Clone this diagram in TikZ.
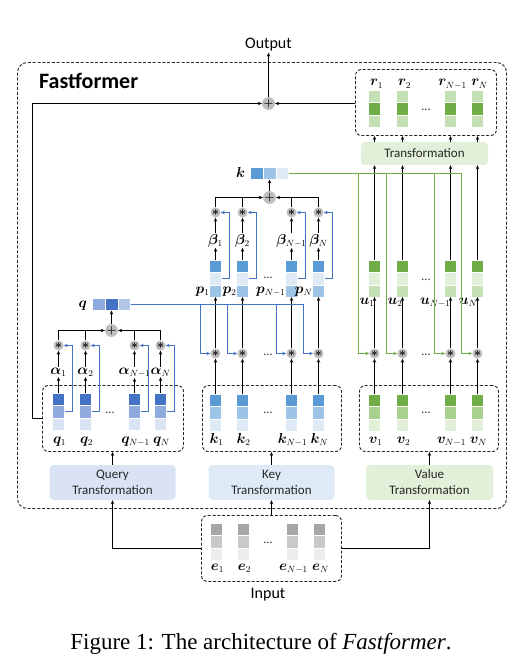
\documentclass[tikz,border=0pt]{standalone}
\usepackage{fontspec}
\usepackage{bm}
\setmainfont{Liberation Serif}
\newfontfamily\sansc{Carlito}
\usetikzlibrary{arrows.meta,calc}
\definecolor{qdark}{HTML}{4472C4}
\definecolor{qmid}{HTML}{8FAADC}
\definecolor{qlight}{HTML}{DAE3F3}
\definecolor{qvl}{HTML}{B4C7E7}
\definecolor{kdark}{HTML}{5B9BD5}
\definecolor{kmid}{HTML}{9DC3E6}
\definecolor{klight}{HTML}{DEEBF7}
\definecolor{vdark}{HTML}{70AD47}
\definecolor{vmid}{HTML}{A9D18E}
\definecolor{vlight}{HTML}{E2F0D9}
\definecolor{vpale}{HTML}{C5E0B4}
\definecolor{edark}{HTML}{A6A6A6}
\definecolor{emid}{HTML}{C9C9C9}
\definecolor{elight}{HTML}{EDEDED}
\definecolor{bline}{HTML}{4472C4}
\definecolor{gline}{HTML}{70AD47}
\newcommand\mkcol[6]{%
  \node[cell, fill=#4, anchor=north] (#1a) at (#2,#3) {};
  \node[cell, fill=#5, anchor=north] (#1b) at (#1a.south) {};
  \node[cell, fill=#6, anchor=north] (#1c) at (#1b.south) {};
}
\begin{document}
\begin{tikzpicture}[x=1pt,y=-1pt,
  cell/.style={draw=white, line width=0.3pt, minimum width=12pt, minimum height=12.333pt, inner sep=0pt, outer sep=0pt},
  hcell/.style={draw=white, line width=0.3pt, minimum width=12.7pt, minimum height=12pt, inner sep=0pt, outer sep=0pt},
  dbox/.style={draw=black!85, dash pattern=on 3pt off 1.8pt, line width=0.9pt, rounded corners=6pt, inner sep=0pt},
  opc/.style={circle, fill=black!25, inner sep=0pt, minimum size=10pt, font=\fontsize{12}{12}\selectfont},
  arr/.style={-{Stealth[length=4pt,width=3.4pt]}, line width=0.8pt},
  ln/.style={line width=0.8pt},
  barr/.style={-{Stealth[length=4pt,width=3.4pt]}, draw=bline, line width=0.9pt},
  garr/.style={-{Stealth[length=4pt,width=3.4pt]}, draw=gline, line width=0.85pt},
  lab/.style={inner sep=0.8pt, font=\fontsize{13.5}{16}\selectfont},
  tbox/.style={rounded corners=4pt, inner sep=0pt, align=center, font=\sansc\fontsize{13}{16}\selectfont, text=black!85},
  dots/.style={font=\sansc\fontsize{12}{12}\selectfont, inner sep=0pt, text=black!85}
]
\useasboundingbox (0,0) rectangle (529,671);
\fill[white] (0,0) rectangle (529,671);

% ---------- boxes ----------
\node[dbox, rounded corners=10pt, minimum width=489pt, minimum height=446pt] (outer) at (262,285.5) {};
\node[anchor=base west, font=\sansc\bfseries\fontsize{22}{24}\selectfont, inner sep=0pt] (title) at (39,89) {Fastformer};

\node[tbox, fill=qlight, minimum width=126pt, minimum height=35pt] (qtr) at (112.5,482.5) {Query\\Transformation};
\node[tbox, fill=klight, minimum width=126pt, minimum height=35pt] (ktr) at (271.5,482.5) {Key\\Transformation};
\node[tbox, fill=vlight, minimum width=127pt, minimum height=35pt] (vtr) at (429.5,482.5) {Value\\Transformation};
\node[tbox, fill=vlight, minimum width=127pt, minimum height=23pt] (tr) at (424.5,153.5) {Transformation};

\node[dbox, minimum width=141pt, minimum height=66pt] (qbox) at (113,418.5) {};
\node[dbox, minimum width=139pt, minimum height=66pt] (kbox) at (272,418.5) {};
\node[dbox, minimum width=139pt, minimum height=66pt] (vbox) at (429,418.5) {};
\node[dbox, minimum width=141pt, minimum height=66pt] (rbox) at (426,102.5) {};
\node[dbox, minimum width=140pt, minimum height=66pt] (inbox) at (271.5,548.5) {};

\node[font=\sansc\fontsize{16}{18}\selectfont, inner sep=1pt] (outp) at (268.5,45) {Output};
\node[font=\sansc\fontsize{16}{18}\selectfont, inner sep=1pt] (inp) at (268,595) {Input};
\node[anchor=base, font=\fontsize{23}{26}\selectfont, inner sep=0pt] (cap) at (261,649) {Figure 1: The architecture of \textit{Fastformer}.};

% ---------- columns ----------
\foreach \i/\x in {1/58.5,2/85.5,3/134.5,4/160.5} {\mkcol{q\i}{\x}{393}{qdark}{qmid}{qlight}}
\foreach \i/\x in {1/215.5,2/242.5,3/291.5,4/318.5} {\mkcol{k\i}{\x}{394}{kdark}{kmid}{klight}}
\foreach \i/\x in {1/215.5,2/242.5,3/291.5,4/318.5} {\mkcol{p\i}{\x}{260}{kdark}{klight}{kmid}}
\foreach \i/\x in {1/374.5,2/402.5,3/450.5,4/477.5} {\mkcol{v\i}{\x}{394}{vdark}{vmid}{vlight}}
\foreach \i/\x in {1/374.5,2/402.5,3/450.5,4/477.5} {\mkcol{u\i}{\x}{260}{vdark}{vlight}{vpale}}
\foreach \i/\x in {1/374.5,2/402.5,3/450.5,4/477.5} {\mkcol{r\i}{\x}{90}{vpale}{vdark}{vpale}}
\foreach \i/\x in {1/216.5,2/243.5,3/292.5,4/319.5} {\mkcol{e\i}{\x}{523}{edark}{emid}{elight}}

% aggregated vectors
\node[hcell, fill=qmid] (qv1) at (98.8,304.5) {};
\node[hcell, fill=qdark] (qv2) at (111.5,304.5) {};
\node[hcell, fill=qvl] (qv3) at (124.2,304.5) {};
\node[hcell, fill=kdark] (kv1) at (256.8,173.5) {};
\node[hcell, fill=kmid] (kv2) at (269.5,173.5) {};
\node[hcell, fill=klight] (kv3) at (282.2,173.5) {};
\node[lab, anchor=base east] (qlab) at (88,307.5) {$\bm{q}$};
\node[lab, anchor=base east] (klab) at (246,177.5) {$\bm{k}$};

% ---------- operator circles ----------
\foreach \i/\x in {1/58.5,2/85.5,3/134.5,4/160.5} {\node[opc] (qs\i) at (\x,345.5) {$\bm{\ast}$};}
\foreach \i/\x in {1/215.5,2/242.5,3/291.5,4/318.5} {\node[opc] (ks\i) at (\x,212.5) {$\bm{\ast}$};}
\foreach \i/\x in {1/215.5,2/242.5,3/291.5,4/318.5} {\node[opc] (kl\i) at (\x,353.5) {$\bm{\ast}$};}
\foreach \i/\x in {1/374.5,2/402.5,3/450.5,4/477.5} {\node[opc] (vs\i) at (\x,353.5) {$\bm{\ast}$};}
\node[opc, font=\fontsize{11}{11}\selectfont] (qplus) at (111.5,330.5) {$\bm{+}$};
\node[opc, font=\fontsize{11}{11}\selectfont] (kplus) at (269.5,197.5) {$\bm{+}$};
\node[opc, font=\fontsize{11}{11}\selectfont] (tplus) at (268.5,103.5) {$\bm{+}$};

% ---------- labels ----------
\foreach \i/\x/\s in {1/58.5/1,2/85.5/2,3/134.5/N-1,4/160.5/N} {
  \node[lab, anchor=base] (qn\i) at (\x+1,443) {$\bm{q}_{\s}$};
  \node[lab, anchor=base] (qa\i) at (\x,374) {$\bm{\alpha}_{\s}$};
}
\foreach \i/\x/\s in {1/215.5/1,2/242.5/2,3/291.5/N-1,4/318.5/N} {
  \node[lab, anchor=base] (kn\i) at (\x+1,443) {$\bm{k}_{\s}$};
  \node[lab, anchor=base] (bt\i) at (\x,244) {$\bm{\beta}_{\s}$};
  \node[lab, anchor=base east] (pn\i) at (\x-5,293) {$\bm{p}_{\s}$};
}
\foreach \i/\x/\s in {1/374.5/1,2/402.5/2,3/450.5/N-1,4/477.5/N} {
  \node[lab, anchor=base] (vn\i) at (\x+1,443) {$\bm{v}_{\s}$};
  \node[lab, anchor=base east] (un\i) at (\x+1,304) {$\bm{u}_{\s}$};
  \node[lab, anchor=base] (rn\i) at (\x+2,86) {$\bm{r}_{\s}$};
}
\foreach \i/\x/\s in {1/216.5/1,2/243.5/2,3/292.5/N-1,4/319.5/N} {
  \node[lab, anchor=base] (en\i) at (\x+1,570) {$\bm{e}_{\s}$};
}

% dots
\node[dots] (d1) at (110,413) {...};
\node[dots] (d2) at (268,413) {...};
\node[dots] (d3) at (268,355) {...};
\node[dots] (d4) at (268,278) {...};
\node[dots] (d5) at (426,413) {...};
\node[dots] (d6) at (426,355) {...};
\node[dots] (d7) at (426,280) {...};
\node[dots] (d8) at (426,110) {...};
\node[dots] (d9) at (268,543) {...};

% ---------- query branch ----------
\foreach \i in {1,2,3,4} {
  \draw[arr] (q\i a.north) -- (qa\i.south);
  \draw[arr] (qa\i.north) -- (qs\i.south);
  \draw[barr] (q\i b.east) -- ++(8,0) |- (qs\i.east);
}
\draw[arr] (qs1.north) |- (qplus.west);
\draw[ln] (qs2.north) -- (qs2.north |- qplus.west);
\draw[arr] (qs4.north) |- (qplus.east);
\draw[ln] (qs3.north) -- (qs3.north |- qplus.east);
\draw[arr] (qplus.north) -- (qv2.south);

% ---------- key branch ----------
\foreach \i in {1,2,3,4} {
  \coordinate (kj\i) at ([xshift=-10pt]kl\i.west);
  \draw[arr] (k\i a.north) -- (kl\i.south);
  \draw[arr] (kl\i.north) -- (p\i c.south);
  \draw[arr] (p\i a.north) -- (bt\i.south);
  \draw[arr] (bt\i.north) -- (ks\i.south);
  \draw[barr] (p\i b.east) -- ++(8,0) |- (ks\i.east);
}
\draw[barr] (qv3.east) -| (kj1) -- (kl1.west);
\draw[barr] (qv3.east) -| (kj2) -- (kl2.west);
\draw[barr] (qv3.east) -| (kj3) -- (kl3.west);
\draw[barr] (qv3.east) -| (kj4) -- (kl4.west);
\draw[arr] (ks1.north) |- (kplus.west);
\draw[ln] (ks2.north) -- (ks2.north |- kplus.west);
\draw[arr] (ks4.north) |- (kplus.east);
\draw[ln] (ks3.north) -- (ks3.north |- kplus.east);
\draw[arr] (kplus.north) -- (kv2.south);

% ---------- value branch ----------
\foreach \i in {1,2,3,4} {
  \coordinate (gj\i) at ([xshift=-11pt]vs\i.west);
  \draw[arr] (v\i a.north) -- (vs\i.south);
  \draw[arr] (vs\i.north) -- (u\i c.south);
  \draw[arr] (u\i a.north) -- (u\i a.north |- tr.south);
  \draw[arr] (r\i c.south |- tr.north) -- (r\i c.south |- rbox.south);
}
\draw[garr] (kv3.east) -| (gj1) -- (vs1.west);
\draw[garr] (kv3.east) -| (gj2) -- (vs2.west);
\draw[garr] (kv3.east) -| (gj3) -- (vs3.west);
\draw[garr] (kv3.east) -| (gj4) -- (vs4.west);

% ---------- output ----------
\draw[arr] (rbox.west |- tplus.east) -- (tplus.east);
\draw[arr] (qbox.west) -- ++(-10,0) |- (tplus.west);
\draw[arr] (tplus.north) -- (outp.south);

% ---------- input ----------
\draw[arr] (inbox.west) -| (qtr.south);
\draw[arr] (inbox.east) -| (vtr.south);
\draw[arr] (inbox.north) -- (inbox.north |- ktr.south);
\draw[arr] (qtr.north) -- (qtr.north |- qbox.south);
\draw[arr] (ktr.north) -- (ktr.north |- kbox.south);
\draw[arr] (vtr.north) -- (vtr.north |- vbox.south);
\end{tikzpicture}
\end{document}
